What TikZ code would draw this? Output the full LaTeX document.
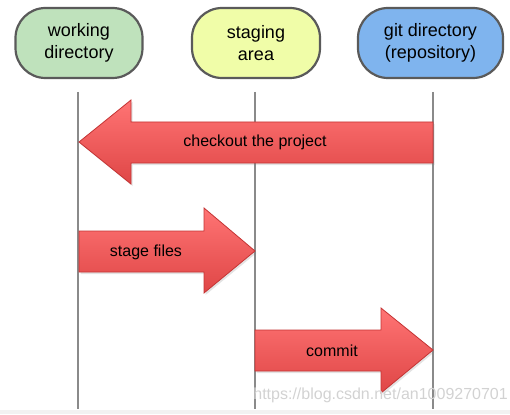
\documentclass[tikz,border=0pt]{standalone}
\usepackage{fontspec}
\setmainfont{Liberation Sans}
\usetikzlibrary{shadows}
\definecolor{wdgreen}{HTML}{BFE2BC}
\definecolor{sayellow}{HTML}{F0FDA8}
\definecolor{gdblue}{HTML}{7FB4EE}
\definecolor{boxborder}{HTML}{5A5A5A}
\definecolor{lanegray}{HTML}{8A8A8A}
\definecolor{arrtop}{HTML}{FF7474}
\definecolor{arrbot}{HTML}{DF4646}
\definecolor{arredge}{HTML}{C43434}
\definecolor{wmgray}{HTML}{D2D2D2}
\definecolor{bandgray}{HTML}{F2F2F2}
\begin{document}
\begin{tikzpicture}[x=1pt,y=-1pt,
  areabox/.style={draw=boxborder, line width=2.2pt, rounded corners=30pt,
    minimum height=70pt, align=center, inner sep=0pt,
    font=\fontsize{18}{22}\selectfont},
  lane/.style={draw=lanegray, line width=2.5pt},
  bigarrow/.style={draw=arredge, line width=0.8pt, top color=arrtop, bottom color=arrbot,
    drop shadow={opacity=0.22, shadow xshift=1.5pt, shadow yshift=-2pt}},
  arrlabel/.style={font=\fontsize{16}{19}\selectfont, text=black}]
\useasboundingbox (0,0) rectangle (510,414);
\fill[bandgray] (0,410) rectangle (510,414);

% area boxes
\node[areabox, fill=wdgreen, minimum width=127pt] (wd) at (79,43) {working\\directory};
\node[areabox, fill=sayellow, minimum width=128pt] (sa) at (256,43) {staging\\area};
\node[areabox, fill=gdblue, minimum width=145pt] (gd) at (430.5,43) {git directory\\(repository)};

% lanes
\coordinate (wdtop) at (78,92);  \coordinate (wdbot) at (78,409);
\coordinate (satop) at (255,92); \coordinate (sabot) at (255,409);
\coordinate (gdtop) at (433,92); \coordinate (gdbot) at (433,409);
\draw[lane] (wdtop) -- (wdbot);
\draw[lane] (satop) -- (sabot);
\draw[lane] (gdtop) -- (gdbot);

% checkout arrow
\path[bigarrow] (433,122) -- (131,122) -- (131,100) -- (79,142) -- (131,184) -- (131,163) -- (433,163) -- cycle;
\node[arrlabel] (checkout) at (255,142) {checkout the project};

% stage arrow
\path[bigarrow] (79,231) -- (204,231) -- (204,208) -- (255,251) -- (204,293) -- (204,272) -- (79,272) -- cycle;
\node[arrlabel] (stage) at (146,252) {stage files};

% commit arrow
\path[bigarrow] (255,330) -- (381,330) -- (381,308) -- (433,350) -- (381,393) -- (381,371) -- (255,371) -- cycle;
\node[arrlabel] (commit) at (332,351) {commit};

% watermark
\node[font=\fontsize{16}{19}\selectfont, text=wmgray, anchor=east, inner sep=0pt] (wm) at (508,395) {https://blog.csdn.net/an1009270701};
\end{tikzpicture}
\end{document}
